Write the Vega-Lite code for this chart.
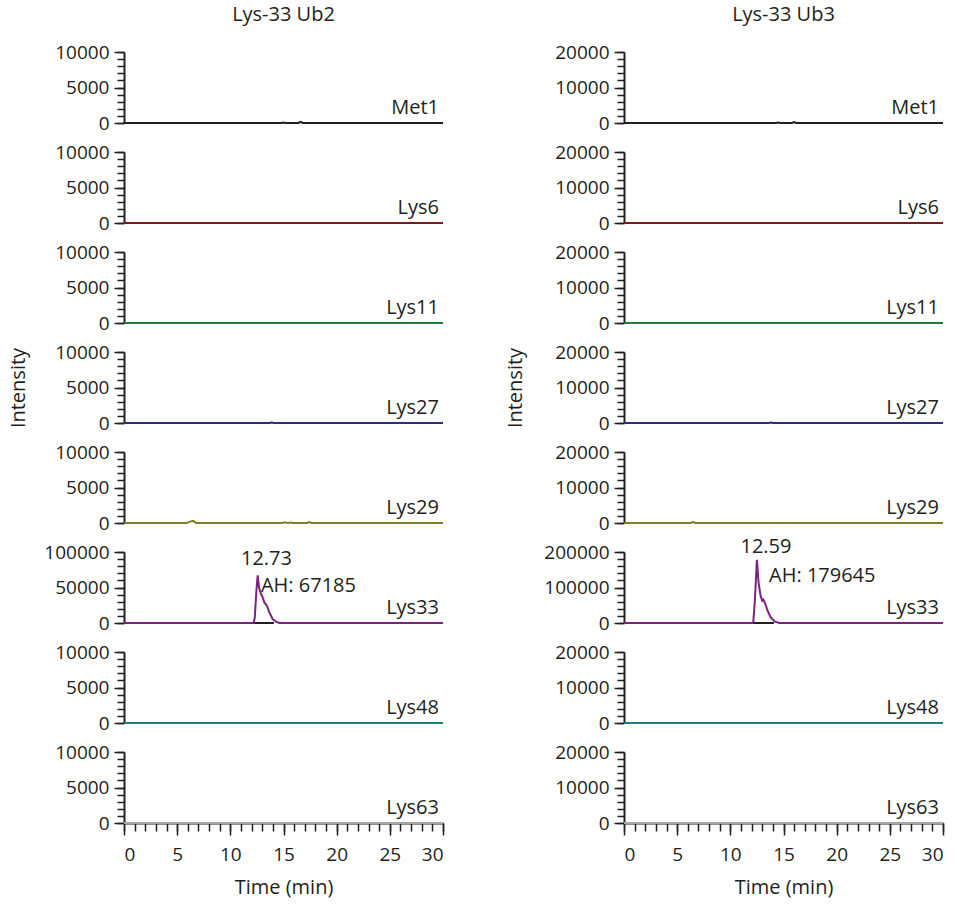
{
 "$schema": "https://vega.github.io/schema/vega-lite/v6.json",
 "background": "white",
 "padding": {"left": 8, "top": 5, "right": 5, "bottom": 5},
 "datasets": {
  "traces": [
   {"col":"Ub2","ion":"Met1","t":0,"v":0},{"col":"Ub2","ion":"Met1","t":14.8,"v":0},{"col":"Ub2","ion":"Met1","t":15.0,"v":80},{"col":"Ub2","ion":"Met1","t":15.2,"v":0},{"col":"Ub2","ion":"Met1","t":16.4,"v":0},{"col":"Ub2","ion":"Met1","t":16.6,"v":150},{"col":"Ub2","ion":"Met1","t":16.8,"v":0},{"col":"Ub2","ion":"Met1","t":30,"v":0},
   {"col":"Ub2","ion":"Lys6","t":0,"v":0},{"col":"Ub2","ion":"Lys6","t":30,"v":0},
   {"col":"Ub2","ion":"Lys11","t":0,"v":0},{"col":"Ub2","ion":"Lys11","t":30,"v":0},
   {"col":"Ub2","ion":"Lys27","t":0,"v":0},{"col":"Ub2","ion":"Lys27","t":13.7,"v":0},{"col":"Ub2","ion":"Lys27","t":13.9,"v":60},{"col":"Ub2","ion":"Lys27","t":14.1,"v":0},{"col":"Ub2","ion":"Lys27","t":30,"v":0},
   {"col":"Ub2","ion":"Lys29","t":0,"v":0},{"col":"Ub2","ion":"Lys29","t":5.9,"v":0},{"col":"Ub2","ion":"Lys29","t":6.2,"v":200},{"col":"Ub2","ion":"Lys29","t":6.5,"v":300},{"col":"Ub2","ion":"Lys29","t":6.8,"v":0},{"col":"Ub2","ion":"Lys29","t":14.9,"v":0},{"col":"Ub2","ion":"Lys29","t":15.1,"v":100},{"col":"Ub2","ion":"Lys29","t":15.4,"v":0},{"col":"Ub2","ion":"Lys29","t":15.7,"v":80},{"col":"Ub2","ion":"Lys29","t":15.9,"v":0},{"col":"Ub2","ion":"Lys29","t":17.2,"v":0},{"col":"Ub2","ion":"Lys29","t":17.4,"v":120},{"col":"Ub2","ion":"Lys29","t":17.6,"v":0},{"col":"Ub2","ion":"Lys29","t":30,"v":0},
   {"col":"Ub2","ion":"Lys33","t":0,"v":0},{"col":"Ub2","ion":"Lys33","t":12.2,"v":0},{"col":"Ub2","ion":"Lys33","t":12.3,"v":8000},{"col":"Ub2","ion":"Lys33","t":12.45,"v":45000},{"col":"Ub2","ion":"Lys33","t":12.57,"v":67000},{"col":"Ub2","ion":"Lys33","t":12.7,"v":50000},{"col":"Ub2","ion":"Lys33","t":12.88,"v":41000},{"col":"Ub2","ion":"Lys33","t":13.04,"v":36000},{"col":"Ub2","ion":"Lys33","t":13.2,"v":29000},{"col":"Ub2","ion":"Lys33","t":13.45,"v":24000},{"col":"Ub2","ion":"Lys33","t":13.67,"v":15000},{"col":"Ub2","ion":"Lys33","t":13.98,"v":5600},{"col":"Ub2","ion":"Lys33","t":14.3,"v":1800},{"col":"Ub2","ion":"Lys33","t":14.6,"v":0},{"col":"Ub2","ion":"Lys33","t":30,"v":0},
   {"col":"Ub2","ion":"Lys48","t":0,"v":0},{"col":"Ub2","ion":"Lys48","t":30,"v":0},
   {"col":"Ub2","ion":"Lys63","t":0,"v":0},{"col":"Ub2","ion":"Lys63","t":30,"v":0},
   {"col":"Ub3","ion":"Met1","t":0,"v":0},{"col":"Ub3","ion":"Met1","t":14.3,"v":0},{"col":"Ub3","ion":"Met1","t":14.5,"v":150},{"col":"Ub3","ion":"Met1","t":14.7,"v":0},{"col":"Ub3","ion":"Met1","t":15.8,"v":0},{"col":"Ub3","ion":"Met1","t":16.0,"v":250},{"col":"Ub3","ion":"Met1","t":16.2,"v":0},{"col":"Ub3","ion":"Met1","t":30,"v":0},
   {"col":"Ub3","ion":"Lys6","t":0,"v":0},{"col":"Ub3","ion":"Lys6","t":30,"v":0},
   {"col":"Ub3","ion":"Lys11","t":0,"v":0},{"col":"Ub3","ion":"Lys11","t":30,"v":0},
   {"col":"Ub3","ion":"Lys27","t":0,"v":0},{"col":"Ub3","ion":"Lys27","t":13.6,"v":0},{"col":"Ub3","ion":"Lys27","t":13.8,"v":150},{"col":"Ub3","ion":"Lys27","t":14.0,"v":0},{"col":"Ub3","ion":"Lys27","t":30,"v":0},
   {"col":"Ub3","ion":"Lys29","t":0,"v":0},{"col":"Ub3","ion":"Lys29","t":6.3,"v":0},{"col":"Ub3","ion":"Lys29","t":6.5,"v":300},{"col":"Ub3","ion":"Lys29","t":6.7,"v":0},{"col":"Ub3","ion":"Lys29","t":30,"v":0},
   {"col":"Ub3","ion":"Lys33","t":0,"v":0},{"col":"Ub3","ion":"Lys33","t":12.15,"v":0},{"col":"Ub3","ion":"Lys33","t":12.3,"v":60000},{"col":"Ub3","ion":"Lys33","t":12.5,"v":178000},{"col":"Ub3","ion":"Lys33","t":12.65,"v":115000},{"col":"Ub3","ion":"Lys33","t":12.84,"v":77000},{"col":"Ub3","ion":"Lys33","t":13.0,"v":63000},{"col":"Ub3","ion":"Lys33","t":13.1,"v":66000},{"col":"Ub3","ion":"Lys33","t":13.3,"v":53500},{"col":"Ub3","ion":"Lys33","t":13.5,"v":34700},{"col":"Ub3","ion":"Lys33","t":13.8,"v":16000},{"col":"Ub3","ion":"Lys33","t":14.2,"v":3700},{"col":"Ub3","ion":"Lys33","t":14.6,"v":0},{"col":"Ub3","ion":"Lys33","t":30,"v":0},
   {"col":"Ub3","ion":"Lys48","t":0,"v":0},{"col":"Ub3","ion":"Lys48","t":30,"v":0},
   {"col":"Ub3","ion":"Lys63","t":0,"v":0},{"col":"Ub3","ion":"Lys63","t":30,"v":0}
  ],
  "base": [
   {"col":"Ub2","t":12.25,"v":0},{"col":"Ub2","t":14.1,"v":0},
   {"col":"Ub3","t":12.2,"v":0},{"col":"Ub3","t":14.1,"v":0}
  ]
 },
 "columns": 2,
 "spacing": {"row": 29, "column": 181},
 "bounds": "flush",
 "concat": [
  {"width":319,"height":71,
   "title":{"text":"Lys-33 Ub2","frame":"group","offset":18,"anchor":"middle"},
   "resolve":{"axis":{"y":"independent"}},
   "layer":[
    {"data":{"name":"traces"},"transform":[{"filter":"datum.col==='Ub2' && datum.ion==='Met1'"}],
     "mark":{"type":"line","color":"#231f20","strokeWidth":2},
     "encoding":{"x":{"field":"t","type":"quantitative","scale":{"domain":[0,30],"nice":false},"axis":null},
      "y":{"field":"v","type":"quantitative","scale":{"domain":[0,10000],"nice":false},"axis":{"orient":"left","values":[0,1000,2000,3000,4000,5000,6000,7000,8000,9000,10000],"tickSize":7,"labels":false,"domain":false,"title":null}}}},
    {"data":{"values":[{"label":"Met1"}]},
     "mark":{"type":"text","align":"right","baseline":"alphabetic","dx":-4,"dy":-9},
     "encoding":{"x":{"datum":30,"type":"quantitative","axis":null},
      "y":{"datum":0,"type":"quantitative","axis":{"orient":"left","values":[0,5000,10000],"tickSize":10,"title":null}},
      "text":{"field":"label"}}}
   ]},
  {"width":319,"height":71,
   "title":{"text":"Lys-33 Ub3","frame":"group","offset":18,"anchor":"middle"},
   "resolve":{"axis":{"y":"independent"}},
   "layer":[
    {"data":{"name":"traces"},"transform":[{"filter":"datum.col==='Ub3' && datum.ion==='Met1'"}],
     "mark":{"type":"line","color":"#231f20","strokeWidth":2},
     "encoding":{"x":{"field":"t","type":"quantitative","scale":{"domain":[0,30],"nice":false},"axis":null},
      "y":{"field":"v","type":"quantitative","scale":{"domain":[0,20000],"nice":false},"axis":{"orient":"left","values":[0,2000,4000,6000,8000,10000,12000,14000,16000,18000,20000],"tickSize":7,"labels":false,"domain":false,"title":null}}}},
    {"data":{"values":[{"label":"Met1"}]},
     "mark":{"type":"text","align":"right","baseline":"alphabetic","dx":-4,"dy":-9},
     "encoding":{"x":{"datum":30,"type":"quantitative","axis":null},
      "y":{"datum":0,"type":"quantitative","axis":{"orient":"left","values":[0,10000,20000],"tickSize":10,"title":null}},
      "text":{"field":"label"}}}
   ]},
  {"width":319,"height":71,
   "resolve":{"axis":{"y":"independent"}},
   "layer":[
    {"data":{"name":"traces"},"transform":[{"filter":"datum.col==='Ub2' && datum.ion==='Lys6'"}],
     "mark":{"type":"line","color":"#7a1a1e","strokeWidth":2},
     "encoding":{"x":{"field":"t","type":"quantitative","scale":{"domain":[0,30],"nice":false},"axis":null},
      "y":{"field":"v","type":"quantitative","scale":{"domain":[0,10000],"nice":false},"axis":{"orient":"left","values":[0,1000,2000,3000,4000,5000,6000,7000,8000,9000,10000],"tickSize":7,"labels":false,"domain":false,"title":null}}}},
    {"data":{"values":[{"label":"Lys6"}]},
     "mark":{"type":"text","align":"right","baseline":"alphabetic","dx":-4,"dy":-9},
     "encoding":{"x":{"datum":30,"type":"quantitative","axis":null},
      "y":{"datum":0,"type":"quantitative","axis":{"orient":"left","values":[0,5000,10000],"tickSize":10,"title":null}},
      "text":{"field":"label"}}}
   ]},
  {"width":319,"height":71,
   "resolve":{"axis":{"y":"independent"}},
   "layer":[
    {"data":{"name":"traces"},"transform":[{"filter":"datum.col==='Ub3' && datum.ion==='Lys6'"}],
     "mark":{"type":"line","color":"#7a1a1e","strokeWidth":2},
     "encoding":{"x":{"field":"t","type":"quantitative","scale":{"domain":[0,30],"nice":false},"axis":null},
      "y":{"field":"v","type":"quantitative","scale":{"domain":[0,20000],"nice":false},"axis":{"orient":"left","values":[0,2000,4000,6000,8000,10000,12000,14000,16000,18000,20000],"tickSize":7,"labels":false,"domain":false,"title":null}}}},
    {"data":{"values":[{"label":"Lys6"}]},
     "mark":{"type":"text","align":"right","baseline":"alphabetic","dx":-4,"dy":-9},
     "encoding":{"x":{"datum":30,"type":"quantitative","axis":null},
      "y":{"datum":0,"type":"quantitative","axis":{"orient":"left","values":[0,10000,20000],"tickSize":10,"title":null}},
      "text":{"field":"label"}}}
   ]},
  {"width":319,"height":71,
   "resolve":{"axis":{"y":"independent"}},
   "layer":[
    {"data":{"name":"traces"},"transform":[{"filter":"datum.col==='Ub2' && datum.ion==='Lys11'"}],
     "mark":{"type":"line","color":"#1f7a3c","strokeWidth":2},
     "encoding":{"x":{"field":"t","type":"quantitative","scale":{"domain":[0,30],"nice":false},"axis":null},
      "y":{"field":"v","type":"quantitative","scale":{"domain":[0,10000],"nice":false},"axis":{"orient":"left","values":[0,1000,2000,3000,4000,5000,6000,7000,8000,9000,10000],"tickSize":7,"labels":false,"domain":false,"title":null}}}},
    {"data":{"values":[{"label":"Lys11"}]},
     "mark":{"type":"text","align":"right","baseline":"alphabetic","dx":-4,"dy":-9},
     "encoding":{"x":{"datum":30,"type":"quantitative","axis":null},
      "y":{"datum":0,"type":"quantitative","axis":{"orient":"left","values":[0,5000,10000],"tickSize":10,"title":null}},
      "text":{"field":"label"}}}
   ]},
  {"width":319,"height":71,
   "resolve":{"axis":{"y":"independent"}},
   "layer":[
    {"data":{"name":"traces"},"transform":[{"filter":"datum.col==='Ub3' && datum.ion==='Lys11'"}],
     "mark":{"type":"line","color":"#1f7a3c","strokeWidth":2},
     "encoding":{"x":{"field":"t","type":"quantitative","scale":{"domain":[0,30],"nice":false},"axis":null},
      "y":{"field":"v","type":"quantitative","scale":{"domain":[0,20000],"nice":false},"axis":{"orient":"left","values":[0,2000,4000,6000,8000,10000,12000,14000,16000,18000,20000],"tickSize":7,"labels":false,"domain":false,"title":null}}}},
    {"data":{"values":[{"label":"Lys11"}]},
     "mark":{"type":"text","align":"right","baseline":"alphabetic","dx":-4,"dy":-9},
     "encoding":{"x":{"datum":30,"type":"quantitative","axis":null},
      "y":{"datum":0,"type":"quantitative","axis":{"orient":"left","values":[0,10000,20000],"tickSize":10,"title":null}},
      "text":{"field":"label"}}}
   ]},
  {"width":319,"height":71,
   "resolve":{"axis":{"y":"independent"}},
   "layer":[
    {"data":{"name":"traces"},"transform":[{"filter":"datum.col==='Ub2' && datum.ion==='Lys27'"}],
     "mark":{"type":"line","color":"#2b2e7a","strokeWidth":2},
     "encoding":{"x":{"field":"t","type":"quantitative","scale":{"domain":[0,30],"nice":false},"axis":null},
      "y":{"field":"v","type":"quantitative","scale":{"domain":[0,10000],"nice":false},"axis":{"orient":"left","values":[0,1000,2000,3000,4000,5000,6000,7000,8000,9000,10000],"tickSize":7,"labels":false,"domain":false,"title":null}}}},
    {"data":{"values":[{"label":"Lys27"}]},
     "mark":{"type":"text","align":"right","baseline":"alphabetic","dx":-4,"dy":-9},
     "encoding":{"x":{"datum":30,"type":"quantitative","axis":null},
      "y":{"datum":0,"type":"quantitative","axis":{"orient":"left","values":[0,5000,10000],"tickSize":10,"title":"Intensity","titlePadding":26}},
      "text":{"field":"label"}}}
   ]},
  {"width":319,"height":71,
   "resolve":{"axis":{"y":"independent"}},
   "layer":[
    {"data":{"name":"traces"},"transform":[{"filter":"datum.col==='Ub3' && datum.ion==='Lys27'"}],
     "mark":{"type":"line","color":"#2b2e7a","strokeWidth":2},
     "encoding":{"x":{"field":"t","type":"quantitative","scale":{"domain":[0,30],"nice":false},"axis":null},
      "y":{"field":"v","type":"quantitative","scale":{"domain":[0,20000],"nice":false},"axis":{"orient":"left","values":[0,2000,4000,6000,8000,10000,12000,14000,16000,18000,20000],"tickSize":7,"labels":false,"domain":false,"title":null}}}},
    {"data":{"values":[{"label":"Lys27"}]},
     "mark":{"type":"text","align":"right","baseline":"alphabetic","dx":-4,"dy":-9},
     "encoding":{"x":{"datum":30,"type":"quantitative","axis":null},
      "y":{"datum":0,"type":"quantitative","axis":{"orient":"left","values":[0,10000,20000],"tickSize":10,"title":"Intensity","titlePadding":29}},
      "text":{"field":"label"}}}
   ]},
  {"width":319,"height":71,
   "resolve":{"axis":{"y":"independent"}},
   "layer":[
    {"data":{"name":"traces"},"transform":[{"filter":"datum.col==='Ub2' && datum.ion==='Lys29'"}],
     "mark":{"type":"line","color":"#7f7f2a","strokeWidth":2},
     "encoding":{"x":{"field":"t","type":"quantitative","scale":{"domain":[0,30],"nice":false},"axis":null},
      "y":{"field":"v","type":"quantitative","scale":{"domain":[0,10000],"nice":false},"axis":{"orient":"left","values":[0,1000,2000,3000,4000,5000,6000,7000,8000,9000,10000],"tickSize":7,"labels":false,"domain":false,"title":null}}}},
    {"data":{"values":[{"label":"Lys29"}]},
     "mark":{"type":"text","align":"right","baseline":"alphabetic","dx":-4,"dy":-9},
     "encoding":{"x":{"datum":30,"type":"quantitative","axis":null},
      "y":{"datum":0,"type":"quantitative","axis":{"orient":"left","values":[0,5000,10000],"tickSize":10,"title":null}},
      "text":{"field":"label"}}}
   ]},
  {"width":319,"height":71,
   "resolve":{"axis":{"y":"independent"}},
   "layer":[
    {"data":{"name":"traces"},"transform":[{"filter":"datum.col==='Ub3' && datum.ion==='Lys29'"}],
     "mark":{"type":"line","color":"#7f7f2a","strokeWidth":2},
     "encoding":{"x":{"field":"t","type":"quantitative","scale":{"domain":[0,30],"nice":false},"axis":null},
      "y":{"field":"v","type":"quantitative","scale":{"domain":[0,20000],"nice":false},"axis":{"orient":"left","values":[0,2000,4000,6000,8000,10000,12000,14000,16000,18000,20000],"tickSize":7,"labels":false,"domain":false,"title":null}}}},
    {"data":{"values":[{"label":"Lys29"}]},
     "mark":{"type":"text","align":"right","baseline":"alphabetic","dx":-4,"dy":-9},
     "encoding":{"x":{"datum":30,"type":"quantitative","axis":null},
      "y":{"datum":0,"type":"quantitative","axis":{"orient":"left","values":[0,10000,20000],"tickSize":10,"title":null}},
      "text":{"field":"label"}}}
   ]},
  {"width":319,"height":71,
   "resolve":{"axis":{"y":"independent"}},
   "layer":[
    {"data":{"name":"traces"},"transform":[{"filter":"datum.col==='Ub2' && datum.ion==='Lys33'"}],
     "mark":{"type":"line","color":"#7b2182","strokeWidth":2},
     "encoding":{"x":{"field":"t","type":"quantitative","scale":{"domain":[0,30],"nice":false},"axis":null},
      "y":{"field":"v","type":"quantitative","scale":{"domain":[0,100000],"nice":false},"axis":{"orient":"left","values":[0,10000,20000,30000,40000,50000,60000,70000,80000,90000,100000],"tickSize":7,"labels":false,"domain":false,"title":null}}}},
    {"data":{"name":"base"},"transform":[{"filter":"datum.col==='Ub2'"}],
     "mark":{"type":"line","color":"#231f20","strokeWidth":2},
     "encoding":{"x":{"field":"t","type":"quantitative","axis":null},"y":{"field":"v","type":"quantitative","axis":null}}},
    {"data":{"values":[{"label":"Lys33"}]},
     "mark":{"type":"text","align":"right","baseline":"alphabetic","dx":-4,"dy":-9},
     "encoding":{"x":{"datum":30,"type":"quantitative","axis":null},
      "y":{"datum":0,"type":"quantitative","axis":{"orient":"left","values":[0,50000,100000],"tickSize":10,"title":null}},
      "text":{"field":"label"}}},
    {"data":{"values":[{"label":"12.73"}]},
     "mark":{"type":"text","align":"center","baseline":"middle"},
     "encoding":{"x":{"datum":13.4,"type":"quantitative","axis":null},"y":{"datum":90100,"type":"quantitative","axis":null},"text":{"field":"label"}}},
    {"data":{"values":[{"label":"AH: 67185"}]},
     "mark":{"type":"text","align":"left","baseline":"middle"},
     "encoding":{"x":{"datum":12.88,"type":"quantitative","axis":null},"y":{"datum":52500,"type":"quantitative","axis":null},"text":{"field":"label"}}}
   ]},
  {"width":319,"height":71,
   "resolve":{"axis":{"y":"independent"}},
   "layer":[
    {"data":{"name":"traces"},"transform":[{"filter":"datum.col==='Ub3' && datum.ion==='Lys33'"}],
     "mark":{"type":"line","color":"#7b2182","strokeWidth":2},
     "encoding":{"x":{"field":"t","type":"quantitative","scale":{"domain":[0,30],"nice":false},"axis":null},
      "y":{"field":"v","type":"quantitative","scale":{"domain":[0,200000],"nice":false},"axis":{"orient":"left","values":[0,20000,40000,60000,80000,100000,120000,140000,160000,180000,200000],"tickSize":7,"labels":false,"domain":false,"title":null}}}},
    {"data":{"name":"base"},"transform":[{"filter":"datum.col==='Ub3'"}],
     "mark":{"type":"line","color":"#231f20","strokeWidth":2},
     "encoding":{"x":{"field":"t","type":"quantitative","axis":null},"y":{"field":"v","type":"quantitative","axis":null}}},
    {"data":{"values":[{"label":"Lys33"}]},
     "mark":{"type":"text","align":"right","baseline":"alphabetic","dx":-4,"dy":-9},
     "encoding":{"x":{"datum":30,"type":"quantitative","axis":null},
      "y":{"datum":0,"type":"quantitative","axis":{"orient":"left","values":[0,100000,200000],"tickSize":10,"title":null}},
      "text":{"field":"label"}}},
    {"data":{"values":[{"label":"12.59"}]},
     "mark":{"type":"text","align":"center","baseline":"middle"},
     "encoding":{"x":{"datum":13.35,"type":"quantitative","axis":null},"y":{"datum":214000,"type":"quantitative","axis":null},"text":{"field":"label"}}},
    {"data":{"values":[{"label":"AH: 179645"}]},
     "mark":{"type":"text","align":"left","baseline":"middle"},
     "encoding":{"x":{"datum":13.64,"type":"quantitative","axis":null},"y":{"datum":133200,"type":"quantitative","axis":null},"text":{"field":"label"}}}
   ]},
  {"width":319,"height":71,
   "resolve":{"axis":{"y":"independent"}},
   "layer":[
    {"data":{"name":"traces"},"transform":[{"filter":"datum.col==='Ub2' && datum.ion==='Lys48'"}],
     "mark":{"type":"line","color":"#1b7f80","strokeWidth":2},
     "encoding":{"x":{"field":"t","type":"quantitative","scale":{"domain":[0,30],"nice":false},"axis":null},
      "y":{"field":"v","type":"quantitative","scale":{"domain":[0,10000],"nice":false},"axis":{"orient":"left","values":[0,1000,2000,3000,4000,5000,6000,7000,8000,9000,10000],"tickSize":7,"labels":false,"domain":false,"title":null}}}},
    {"data":{"values":[{"label":"Lys48"}]},
     "mark":{"type":"text","align":"right","baseline":"alphabetic","dx":-4,"dy":-9},
     "encoding":{"x":{"datum":30,"type":"quantitative","axis":null},
      "y":{"datum":0,"type":"quantitative","axis":{"orient":"left","values":[0,5000,10000],"tickSize":10,"title":null}},
      "text":{"field":"label"}}}
   ]},
  {"width":319,"height":71,
   "resolve":{"axis":{"y":"independent"}},
   "layer":[
    {"data":{"name":"traces"},"transform":[{"filter":"datum.col==='Ub3' && datum.ion==='Lys48'"}],
     "mark":{"type":"line","color":"#1b7f80","strokeWidth":2},
     "encoding":{"x":{"field":"t","type":"quantitative","scale":{"domain":[0,30],"nice":false},"axis":null},
      "y":{"field":"v","type":"quantitative","scale":{"domain":[0,20000],"nice":false},"axis":{"orient":"left","values":[0,2000,4000,6000,8000,10000,12000,14000,16000,18000,20000],"tickSize":7,"labels":false,"domain":false,"title":null}}}},
    {"data":{"values":[{"label":"Lys48"}]},
     "mark":{"type":"text","align":"right","baseline":"alphabetic","dx":-4,"dy":-9},
     "encoding":{"x":{"datum":30,"type":"quantitative","axis":null},
      "y":{"datum":0,"type":"quantitative","axis":{"orient":"left","values":[0,10000,20000],"tickSize":10,"title":null}},
      "text":{"field":"label"}}}
   ]},
  {"width":319,"height":71,
   "resolve":{"axis":{"y":"independent","x":"independent"}},
   "layer":[
    {"data":{"name":"traces"},"transform":[{"filter":"datum.col==='Ub2' && datum.ion==='Lys63'"}],
     "mark":{"type":"line","color":"#a6a6a6","strokeWidth":2},
     "encoding":{"x":{"field":"t","type":"quantitative","scale":{"domain":[0,30],"nice":false},"axis":{"orient":"bottom","values":[0,1,2,3,4,5,6,7,8,9,10,11,12,13,14,15,16,17,18,19,20,21,22,23,24,25,26,27,28,29,30],"tickSize":8,"labels":false,"domain":true,"title":null}},
      "y":{"field":"v","type":"quantitative","scale":{"domain":[0,10000],"nice":false},"axis":{"orient":"left","values":[0,1000,2000,3000,4000,5000,6000,7000,8000,9000,10000],"tickSize":7,"labels":false,"domain":false,"title":null}}}},
    {"data":{"values":[{"label":"Lys63"}]},
     "mark":{"type":"text","align":"right","baseline":"alphabetic","dx":-4,"dy":-9},
     "encoding":{"x":{"datum":30,"type":"quantitative","axis":{"orient":"bottom","values":[0,5,10,15,20,25,30],"tickSize":12,"domain":false,"title":"Time (min)","labelPadding":10,"titlePadding":13}},
      "y":{"datum":0,"type":"quantitative","axis":{"orient":"left","values":[0,5000,10000],"tickSize":10,"title":null}},
      "text":{"field":"label"}}}
   ]},
  {"width":319,"height":71,
   "resolve":{"axis":{"y":"independent","x":"independent"}},
   "layer":[
    {"data":{"name":"traces"},"transform":[{"filter":"datum.col==='Ub3' && datum.ion==='Lys63'"}],
     "mark":{"type":"line","color":"#a6a6a6","strokeWidth":2},
     "encoding":{"x":{"field":"t","type":"quantitative","scale":{"domain":[0,30],"nice":false},"axis":{"orient":"bottom","values":[0,1,2,3,4,5,6,7,8,9,10,11,12,13,14,15,16,17,18,19,20,21,22,23,24,25,26,27,28,29,30],"tickSize":8,"labels":false,"domain":true,"title":null}},
      "y":{"field":"v","type":"quantitative","scale":{"domain":[0,20000],"nice":false},"axis":{"orient":"left","values":[0,2000,4000,6000,8000,10000,12000,14000,16000,18000,20000],"tickSize":7,"labels":false,"domain":false,"title":null}}}},
    {"data":{"values":[{"label":"Lys63"}]},
     "mark":{"type":"text","align":"right","baseline":"alphabetic","dx":-4,"dy":-9},
     "encoding":{"x":{"datum":30,"type":"quantitative","axis":{"orient":"bottom","values":[0,5,10,15,20,25,30],"tickSize":12,"domain":false,"title":"Time (min)","labelPadding":10,"titlePadding":13}},
      "y":{"datum":0,"type":"quantitative","axis":{"orient":"left","values":[0,10000,20000],"tickSize":10,"title":null}},
      "text":{"field":"label"}}}
   ]}
 ],
 "config": {
  "font": "Open Sans",
  "view": {"stroke": null},
  "text": {"fontSize": 20, "color": "#231f20", "font": "Open Sans"},
  "title": {"fontSize": 20, "fontWeight": "normal", "color": "#231f20", "font": "Open Sans"},
  "axis": {"grid": false, "format": "d", "labelFontSize": 19, "titleFontSize": 20, "titleFontWeight": "normal", "labelColor": "#231f20", "titleColor": "#231f20", "tickColor": "#231f20", "domainColor": "#231f20", "tickWidth": 1.5, "domainWidth": 2, "labelPadding": 5, "labelFont": "Open Sans", "titleFont": "Open Sans"}
 }
}
